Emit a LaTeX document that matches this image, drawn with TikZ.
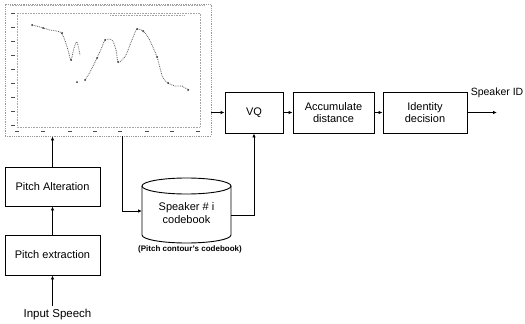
\documentclass[tikz,border=0pt]{standalone}
\usepackage{fontspec}
\setmainfont{Liberation Sans}
\usetikzlibrary{arrows.meta,positioning}

\tikzset{
  blockbox/.style={draw, line width=0.9pt, align=center, inner sep=0pt,
    font=\fontsize{11}{12.5}\selectfont},
  flow/.style={line width=0.8pt, -{Latex[length=4pt,width=3.5pt]}},
  gridline/.style={gray!70, densely dotted, line width=0.6pt},
}

\begin{document}
\begin{tikzpicture}[x=1pt, y=-1pt]
    \useasboundingbox (0,0) rectangle (525,324);

    % pitch contour screenshot
    \node[draw=gray!80, densely dotted, line width=0.8pt, minimum width=206pt,
          minimum height=132pt, inner sep=0pt] (contour) at (108,70) {};
    \draw[gridline] (17,13) rectangle (200,127);
    \draw[gridline] (110,15) -- (185,15);
    \draw[gridline] (10,5) -- (205,5);
    \foreach \ty in {13,27,41,55,69,83,97,111,125}
        \draw[line width=0.9pt, gray!60!black] (11,\ty) -- (15,\ty);
    \foreach \tx in {17,43,70,95,120,147,172,198}
        \draw[line width=0.9pt, gray!60!black] (\tx-2,131) -- (\tx+2,131);
    \draw[gray!70!black, densely dotted, line width=0.8pt] plot[smooth] coordinates
        {(32,25) (40,27) (50,30) (60,32) (64,38) (68,50) (71,60) (74,48) (77,42) (80,55)};
    \draw[gray!70!black, densely dotted, line width=0.8pt] plot[smooth] coordinates
        {(85,80) (90,72) (97,58) (102,47) (105,40) (112,40) (116,50) (118,62)
         (122,60) (126,55) (130,45) (134,35) (137,29) (143,31) (148,37) (152,45)
         (157,57) (160,68) (163,78) (168,83) (175,86) (182,86) (185,88) (190,90)};
    \foreach \px/\py in {32/25,43/28,62/33,71/60,77/82,85/80,97/58,105/40,
                         118/62,137/29,143/31,157/57,168/83,188/90}
        \fill[black!80] (\px,\py) circle (1pt);

    % blocks
    \node[blockbox, minimum width=95pt, minimum height=39pt] (alter) at (52.5,186.5) {Pitch Alteration};
    \node[blockbox, minimum width=95pt, minimum height=40pt] (extract) at (52.5,255) {Pitch extraction};
    \node[blockbox, minimum width=58pt, minimum height=41pt] (vq) at (254,112.5) {VQ};
    \node[blockbox, minimum width=81pt, minimum height=41pt] (accum) at (333.5,112.5) {Accumulate\\distance};
    \node[blockbox, minimum width=84pt, minimum height=41pt] (ident) at (425,112.5) {Identity\\decision};

    % codebook cylinder
    \draw[line width=0.9pt] (186.5,186) ellipse [x radius=44.5pt, y radius=8pt];
    \draw[line width=0.9pt] (142,186) -- (142,235)
        arc [start angle=180, end angle=360, x radius=44.5pt, y radius=8pt] -- (231,186);
    \node[font=\fontsize{11}{12.5}\selectfont, align=center] (book) at (186.5,213) {Speaker \# i\\codebook};
    \node[font=\fontsize{8}{9}\selectfont\bfseries] (booknote) at (190,249) {(Pitch contour's codebook)};
    \coordinate (bookin) at (142,211);
    \coordinate (bookout) at (231,215);
    \coordinate (tap) at (122,136);

    \node[font=\fontsize{11.5}{13}\selectfont] (speech) at (57.5,315) {Input Speech};
    \node[font=\fontsize{10.5}{12}\selectfont, anchor=east, inner sep=1pt] (spkid) at (524.5,93) {Speaker ID};
    \coordinate (out) at (497,112.5);

    % connectors
    \draw[flow] (speech.north -| extract) -- (extract.south);
    \draw[flow] (extract.north) -- (alter.south);
    \draw[flow] (alter.north) -- (alter.north |- contour.south);
    \draw[flow] (tap) |- (bookin);
    \draw[flow] (bookout) -| (vq.south);
    \draw[flow] (vq.west -| contour.east) -- (vq.west);
    \draw[flow] (vq.east) -- (accum.west);
    \draw[flow] (accum.east) -- (ident.west);
    \draw[flow] (ident.east) -- (out);
\end{tikzpicture}
\end{document}
